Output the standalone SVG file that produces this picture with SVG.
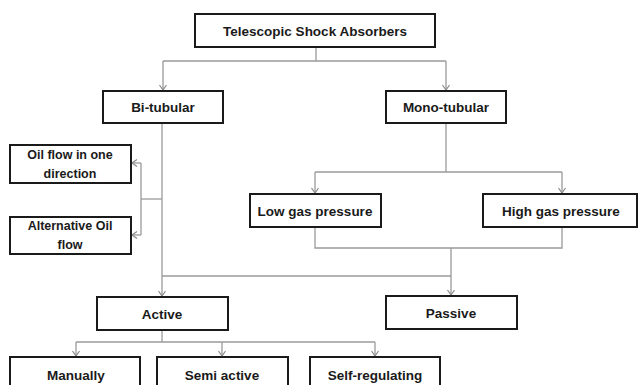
<svg xmlns="http://www.w3.org/2000/svg" width="640" height="385" viewBox="0 0 640 385">
<style>
.box{fill:#fff;stroke:#1a1a1a;stroke-width:2}
.t{font-family:"Liberation Sans",Arial,sans-serif;font-weight:bold;font-size:13.5px;fill:#1a1a1a;text-anchor:middle}
.s{font-size:12.5px}
.c{fill:none;stroke:#9a9a9a;stroke-width:1.3}
</style>
<defs>
<marker id="ah" markerUnits="userSpaceOnUse" markerWidth="10" markerHeight="10" refX="6" refY="4" orient="auto">
<path d="M1,0.5 L6,4 L1,7.5" fill="none" stroke="#8a8a8a" stroke-width="1.2"/>
</marker>
</defs>
<rect width="640" height="385" fill="#fff"/>
<g id="connectors">
<path class="c" d="M316,47 V61"/>
<path class="c" d="M163,61 H446"/>
<path class="c" d="M163,61 V90" marker-end="url(#ah)"/>
<path class="c" d="M446,61 V90" marker-end="url(#ah)"/>
<path class="c" d="M446,123 V172"/>
<path class="c" d="M315,172 H562"/>
<path class="c" d="M315,172 V193" marker-end="url(#ah)"/>
<path class="c" d="M562,172 V193" marker-end="url(#ah)"/>
<path class="c" d="M162,123 V296" marker-end="url(#ah)"/>
<path class="c" d="M162,199 H141"/>
<path class="c" d="M141,163 V235"/>
<path class="c" d="M141,163 H132" marker-end="url(#ah)"/>
<path class="c" d="M141,235 H132" marker-end="url(#ah)"/>
<path class="c" d="M315,227 V248 H562 V227"/>
<path class="c" d="M451,248 V295" marker-end="url(#ah)"/>
<path class="c" d="M162,276 H451"/>
<path class="c" d="M162,330 V342"/>
<path class="c" d="M76,342 H375"/>
<path class="c" d="M76,342 V356" marker-end="url(#ah)"/>
<path class="c" d="M222,342 V356" marker-end="url(#ah)"/>
<path class="c" d="M375,342 V356" marker-end="url(#ah)"/>
</g>
<g id="n-top"><rect class="box" x="195" y="14" width="240" height="33"/><text class="t" x="315" y="35.5">Telescopic Shock Absorbers</text></g>
<g id="n-bi"><rect class="box" x="103" y="91" width="120" height="32"/><text class="t" x="163" y="112">Bi-tubular</text></g>
<g id="n-mono"><rect class="box" x="386" y="91" width="120" height="32"/><text class="t" x="446" y="112">Mono-tubular</text></g>
<g id="n-oil1"><rect class="box" x="10" y="145" width="121" height="38"/><text class="t s" x="70" y="159">Oil flow in one</text><text class="t s" x="70" y="178">direction</text></g>
<g id="n-oil2"><rect class="box" x="10" y="217" width="121" height="37"/><text class="t s" x="70" y="230">Alternative Oil</text><text class="t s" x="70" y="249">flow</text></g>
<g id="n-low"><rect class="box" x="250" y="194" width="131" height="33"/><text class="t" x="315" y="216">Low gas pressure</text></g>
<g id="n-high"><rect class="box" x="483" y="194" width="154" height="33"/><text class="t" x="561" y="216">High gas pressure</text></g>
<g id="n-active"><rect class="box" x="97" y="297" width="131" height="33"/><text class="t" x="162" y="319">Active</text></g>
<g id="n-passive"><rect class="box" x="386" y="296" width="131" height="33"/><text class="t" x="451" y="318">Passive</text></g>
<g id="n-man"><rect class="box" x="10" y="357" width="130" height="40"/><text class="t" x="76" y="380">Manually</text></g>
<g id="n-semi"><rect class="box" x="157" y="357" width="131" height="40"/><text class="t" x="222" y="380">Semi active</text></g>
<g id="n-self"><rect class="box" x="310" y="357" width="130" height="40"/><text class="t" x="375" y="380">Self-regulating</text></g>
</svg>
